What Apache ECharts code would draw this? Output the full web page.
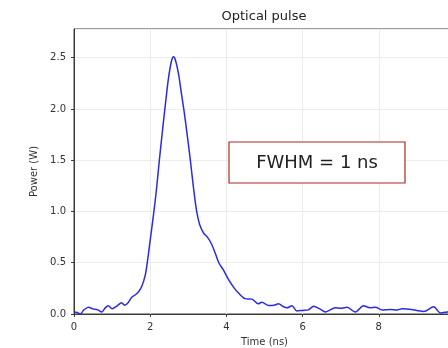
<!DOCTYPE html>
<html>
<head>
<meta charset="utf-8">
<script src="https://cdn.jsdelivr.net/npm/echarts@6/dist/echarts.min.js"></script>
<style>
html,body{margin:0;padding:0;background:#fff;}
#chart{width:448px;height:348px;}
</style>
</head>
<body>
<div id="chart"></div>
<script>
var timeNs = [0,0.08,0.16,0.26,0.38,0.5,0.62,0.73,0.82,0.9,1.0,1.13,1.25,1.33,1.42,1.52,1.62,1.7,1.78,1.87,1.93,2.0,2.08,2.16,2.24,2.32,2.4,2.48,2.56,2.61,2.66,2.74,2.82,2.9,2.98,3.06,3.14,3.22,3.3,3.4,3.5,3.6,3.7,3.8,3.92,4.05,4.19,4.33,4.49,4.67,4.84,4.93,5.11,5.25,5.37,5.48,5.59,5.72,5.85,6.0,6.15,6.29,6.45,6.6,6.86,7.0,7.17,7.38,7.6,7.77,7.91,8.09,8.3,8.48,8.61,8.86,9.0,9.18,9.44,9.62,9.8,10.0];
var powerW = [0.02,0.015,0.0,0.04,0.065,0.05,0.04,0.02,0.06,0.08,0.05,0.08,0.11,0.085,0.11,0.165,0.19,0.22,0.27,0.38,0.52,0.72,0.95,1.2,1.5,1.78,2.05,2.3,2.47,2.51,2.48,2.35,2.15,1.95,1.72,1.48,1.22,1.0,0.87,0.79,0.75,0.69,0.6,0.5,0.43,0.34,0.26,0.2,0.15,0.145,0.10,0.115,0.083,0.085,0.1,0.075,0.06,0.08,0.03,0.035,0.04,0.075,0.05,0.02,0.06,0.055,0.065,0.02,0.08,0.06,0.065,0.04,0.045,0.04,0.05,0.045,0.035,0.025,0.07,0.01,0.02,0.03];
var titleText = 'Optical pulse';
var xName = 'Time (ns)';
var yName = 'Power (W)';
var noteText = 'FWHM = 1 ns';

var seriesData = timeNs.map(function(t, i){ return [t, powerW[i]]; });
var font = 'DejaVu Sans';
var chart = echarts.init(document.getElementById('chart'), null, {renderer:'canvas'});
chart.setOption({
  animation:false,
  backgroundColor:'#ffffff',
  grid:{left:74,top:29,width:381,height:285,containLabel:false,outerBoundsMode:'none',
    show:true,borderColor:'#3a3a3a',borderWidth:1,backgroundColor:'transparent'},
  xAxis:{type:'value',min:0,max:10,interval:2,
    name:xName,nameLocation:'middle',nameGap:23,
    nameTextStyle:{fontFamily:font,fontSize:10,color:'#333'},
    axisLine:{show:true,lineStyle:{color:'#3a3a3a'}},
    axisTick:{show:true,length:3,lineStyle:{color:'#3a3a3a'}},
    axisLabel:{fontFamily:font,fontSize:10,color:'#333',margin:8},
    splitLine:{show:true,lineStyle:{color:'#ececec',width:1}}},
  yAxis:{type:'value',min:0,max:2.78,interval:0.5,
    name:yName,nameLocation:'middle',nameGap:30,nameRotate:90,
    nameTextStyle:{fontFamily:font,fontSize:10,color:'#333'},
    axisLine:{show:true,lineStyle:{color:'#3a3a3a'}},
    axisTick:{show:true,length:3,lineStyle:{color:'#3a3a3a'}},
    axisLabel:{fontFamily:font,fontSize:10,color:'#333',margin:8,showMaxLabel:false,
      formatter:function(v){return v.toFixed(1);}},
    splitLine:{show:true,lineStyle:{color:'#ececec',width:1}}},
  series:[{type:'line',data:seriesData,smooth:0.3,showSymbol:false,
    lineStyle:{color:'#2b2be0',width:1.5},clip:true}],
  graphic:[
    {type:'text',x:264,y:17,
      style:{text:titleText,font:'13px "DejaVu Sans"',fill:'#222',align:'center',verticalAlign:'middle'}},
    {type:'rect',x:229,y:142,shape:{x:0,y:0,width:176,height:41},
      style:{fill:'#ffffff',stroke:'#a82828',lineWidth:1.2},z:100},
    {type:'text',x:317,y:163,
      style:{text:noteText,font:'18px "DejaVu Sans"',fill:'#222',align:'center',verticalAlign:'middle'},z:101}
  ]
});
</script>
</body>
</html>
